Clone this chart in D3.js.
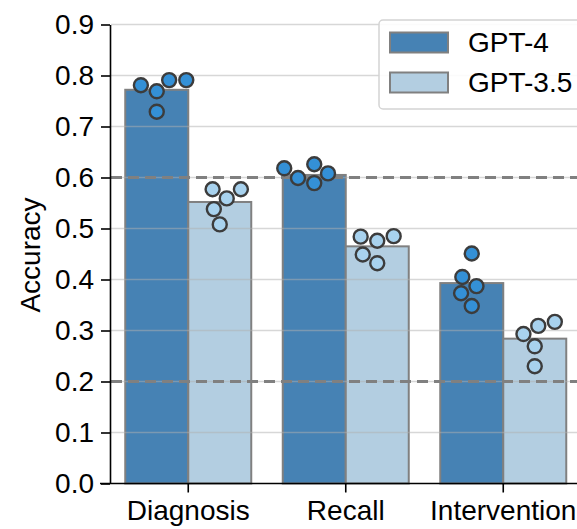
<!DOCTYPE html>
<html>
<head>
<meta charset="utf-8">
<script src="https://cdn.jsdelivr.net/npm/d3@7"></script>
<style>
  html, body { margin: 0; padding: 0; background: #fff; }
  svg { display: block; font-family: "Liberation Sans", Arial, sans-serif; }
</style>
</head>
<body>
<svg id="chart" width="577" height="529"></svg>
<script>
// ---- data ----
const categories = ["Diagnosis", "Recall", "Intervention"];
const seriesNames = ["GPT-4", "GPT-3.5"];
const gpt4Bars = [0.772, 0.605, 0.393];
const gpt35Bars = [0.552, 0.465, 0.284];
const gpt4Points = [
  [0.781, 0.769, 0.729, 0.791, 0.791],
  [0.618, 0.599, 0.626, 0.589, 0.608],
  [0.451, 0.405, 0.387, 0.373, 0.348]
];
const gpt35Points = [
  [0.577, 0.577, 0.559, 0.538, 0.508],
  [0.484, 0.476, 0.485, 0.449, 0.432],
  [0.317, 0.309, 0.293, 0.269, 0.230]
];
const yTicks = [0.0, 0.1, 0.2, 0.3, 0.4, 0.5, 0.6, 0.7, 0.8, 0.9];
const refLines = [0.6, 0.2];

// ---- styles ----
const barFill = ["#4682b4", "#b3cee1"];
const dotFill = ["#3490d6", "#a8d2ee"];
const fontSize = 28;

const svg = d3.select("#chart");

const x = d3.scaleBand().domain(categories).range([109.5, 582])
  .paddingInner(0.2).paddingOuter(0.1);
const hue = d3.scaleBand().domain(seriesNames).range([0, x.bandwidth()]);
const y = d3.scaleLinear().domain([0, 0.9]).range([483.5, 24.5]);

const bars = [gpt4Bars, gpt35Bars];
const points = [gpt4Points, gpt35Points];

// bars
const barData = [];
seriesNames.forEach((s, si) => categories.forEach((c, ci) =>
  barData.push({ s, si, c, v: bars[si][ci] })));

svg.append("g").selectAll("rect").data(barData).join("rect")
  .attr("x", d => x(d.c) + hue(d.s))
  .attr("y", d => y(d.v))
  .attr("width", hue.bandwidth())
  .attr("height", d => y(0) - y(d.v))
  .attr("fill", d => barFill[d.si])
  .attr("stroke", "#808080")
  .attr("stroke-width", 2);

// grid lines (drawn over bars, translucent)
svg.append("g").selectAll("line").data(yTicks.filter(t => t > 0)).join("line")
  .attr("x1", 111).attr("x2", 577)
  .attr("y1", d => y(d)).attr("y2", d => y(d))
  .attr("stroke", "#b0b0b0").attr("stroke-opacity", 0.5)
  .attr("stroke-width", 1.6);

// reference dashed lines
svg.append("g").selectAll("line").data(refLines).join("line")
  .attr("x1", 111).attr("x2", 577)
  .attr("y1", d => y(d)).attr("y2", d => y(d))
  .attr("stroke", "#808080").attr("stroke-width", 3)
  .attr("stroke-dasharray", "11,6");

// axes
const yAxis = d3.axisLeft(y).tickValues(yTicks).tickFormat(d3.format(".1f"))
  .tickSize(9).tickSizeOuter(0).tickPadding(7);
const gy = svg.append("g").attr("transform", "translate(110,0)").call(yAxis);
gy.selectAll("text").attr("font-size", fontSize).attr("fill", "#000")
  .attr("font-family", "Liberation Sans, Arial, sans-serif");
gy.selectAll("line").attr("stroke", "#000").attr("stroke-width", 1.6);
gy.select(".domain").attr("stroke", "#000").attr("stroke-width", 1.6);

const xAxis = d3.axisBottom(x).tickSize(9).tickSizeOuter(0).tickPadding(8);
const gx = svg.append("g").attr("transform", "translate(0,483.5)").call(xAxis);
gx.select(".domain").remove();
gx.append("line").attr("x1", 100).attr("x2", 582).attr("stroke", "#000").attr("stroke-width", 1.6);
gx.selectAll(".tick line").attr("stroke", "#000").attr("stroke-width", 1.6);
gx.selectAll("text").attr("font-size", fontSize).attr("fill", "#000")
  .attr("font-family", "Liberation Sans, Arial, sans-serif");

// y label
svg.append("text")
  .attr("transform", "translate(40,255) rotate(-90)")
  .attr("text-anchor", "middle")
  .attr("font-size", fontSize)
  .text("Accuracy");

// swarm layout (seaborn-like beeswarm)
function beeswarm(cx, values, dia) {
  const pts = values.map(v => ({ v, py: y(v) }))
    .sort((a, b) => b.py - a.py); // ascending value
  const swarm = [];
  pts.forEach((p, i) => {
    if (i === 0) { p.px = cx; swarm.push(p); return; }
    const neighbors = [];
    for (let j = swarm.length - 1; j >= 0; j--) {
      if (Math.abs(p.py - swarm[j].py) < dia) neighbors.unshift(swarm[j]);
      else break;
    }
    const cands = [cx];
    let leftFirst = true;
    neighbors.forEach(n => {
      const dy = p.py - n.py;
      const dx = Math.sqrt(Math.max(dia * dia - dy * dy, 0)) * 1.05;
      if (leftFirst) cands.push(n.px - dx, n.px + dx);
      else cands.push(n.px + dx, n.px - dx);
      leftFirst = !leftFirst;
    });
    const order = cands.map((c, k) => ({ c, k }))
      .sort((a, b) => (Math.abs(a.c - cx) - Math.abs(b.c - cx)) || (a.k - b.k));
    let chosen = order[order.length - 1].c;
    for (const o of order) {
      const ok = neighbors.every(n => Math.hypot(o.c - n.px, p.py - n.py) >= dia - 1e-6);
      if (ok) { chosen = o.c; break; }
    }
    p.px = chosen;
    swarm.push(p);
  });
  return swarm;
}

const dotData = [];
seriesNames.forEach((s, si) => categories.forEach((c, ci) => {
  const cx = x(c) + hue(s) + hue.bandwidth() / 2;
  beeswarm(cx, points[si][ci], 16.3).forEach(p => dotData.push({ si, px: p.px, py: p.py }));
}));

svg.append("g").selectAll("circle").data(dotData).join("circle")
  .attr("cx", d => d.px).attr("cy", d => d.py)
  .attr("r", 7)
  .attr("fill", d => dotFill[d.si])
  .attr("stroke", "#3c3c3c")
  .attr("stroke-width", 2.4);

// legend
const lg = svg.append("g");
lg.append("rect").attr("x", 379).attr("y", 20).attr("width", 220).attr("height", 89)
  .attr("rx", 4).attr("fill", "#fff").attr("fill-opacity", 0.9)
  .attr("stroke", "#d4d4d4").attr("stroke-width", 1.5);
seriesNames.forEach((s, si) => {
  const cy = 42.5 + si * 40;
  lg.append("rect").attr("x", 390).attr("y", cy - 10).attr("width", 58).attr("height", 20)
    .attr("fill", barFill[si]).attr("stroke", "#808080").attr("stroke-width", 2);
  lg.append("text").attr("x", 468).attr("y", cy).attr("dy", "0.35em")
    .attr("font-size", fontSize).text(s);
});
</script>
</body>
</html>
